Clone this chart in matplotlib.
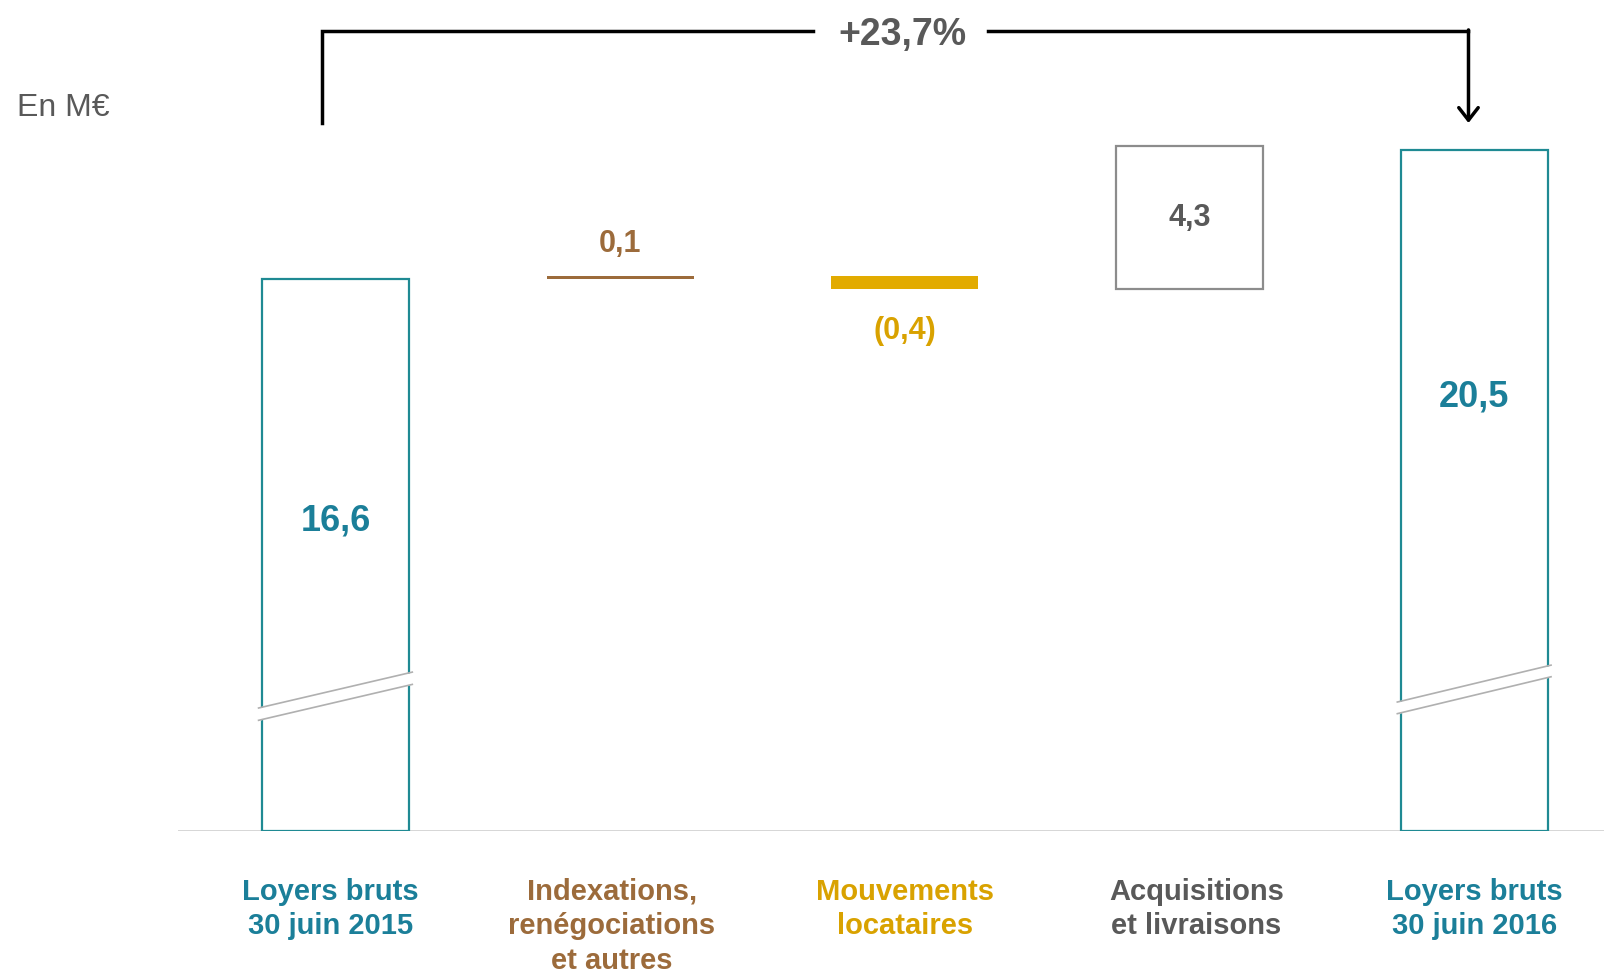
import numpy as np
import matplotlib
matplotlib.use("Agg")
import matplotlib.pyplot as plt

plt.rcParams["font.family"] = ["Liberation Sans", "DejaVu Sans"]

# données (M€)
categories = ["Loyers bruts\n30 juin 2015", "Indexations,\nrenégociations\net autres",
              "Mouvements\nlocataires", "Acquisitions\net livraisons", "Loyers bruts\n30 juin 2016"]
values = [16.6, 0.1, -0.4, 4.3, 20.5]
value_labels = ["16,6", "0,1", "(0,4)", "4,3", "20,5"]
growth_label = "+23,7%"

TEAL = "#1f8a93"
TEAL_TXT = "#1b7f99"
BROWN = "#9c6b3b"
GOLD = "#e2ab00"
GOLD_TXT = "#d9a200"
GREY = "#8c8c8c"
DARK = "#595959"
cat_colors = [TEAL_TXT, BROWN, GOLD_TXT, DARK, TEAL_TXT]

fig = plt.figure(figsize=(16.04, 9.73), dpi=100)
ax = fig.add_axes([178 / 1604, 142 / 973, 1 - 178 / 1604, 831 / 973])
ax.set_xlim(-0.553, 4.456)
ax.set_ylim(0, 25)
ax.axis("off")

w = 0.516
x = np.arange(len(values))

# calcul cascade
bottoms = []
run = 0
for i, v in enumerate(values):
    if i == 0 or i == len(values) - 1:
        bottoms.append(0)
        run = v
    else:
        bottoms.append(min(run, run + v))
        run += v
heights = [abs(v) if 0 < i < len(values) - 1 else v for i, v in enumerate(values)]

# barres totales
for i in (0, 4):
    ax.bar(x[i], heights[i], bottom=bottoms[i], width=w, facecolor="white",
           edgecolor=TEAL, linewidth=1.6, zorder=2)
# variations
ax.bar(x[1], heights[1], bottom=bottoms[1], width=w, color=BROWN, linewidth=0, zorder=2)
ax.bar(x[2], heights[2], bottom=bottoms[2], width=w, color=GOLD, linewidth=0, zorder=2)
ax.bar(x[3], heights[3], bottom=bottoms[3], width=w, facecolor="white",
       edgecolor=GREY, linewidth=1.6, zorder=2)

# coupures d'axe
breaks = {0: (3.70, 4.78, 0.37), 4: (3.88, 4.99, 0.35)}
for i, (yl, yr, gap) in breaks.items():
    xs = np.array([x[i] - w / 2 - 0.012, x[i] + w / 2 + 0.012])
    top = np.array([yl, yr])
    ax.fill_between(xs, top - gap, top, color="white", zorder=3, linewidth=0)
    ax.plot(xs, top, color="#b0b0b0", lw=1.2, zorder=4)
    ax.plot(xs, top - gap, color="#b0b0b0", lw=1.2, zorder=4)

# ligne de base
ax.axhline(0, color="#cfcfcf", lw=1.2, zorder=1)

# étiquettes de valeurs
ax.text(x[0], 9.33, value_labels[0], ha="center", va="center", fontsize=26,
        fontweight="bold", color=TEAL_TXT)
ax.text(x[4], 13.05, value_labels[4], ha="center", va="center", fontsize=26,
        fontweight="bold", color=TEAL_TXT)
ax.text(x[1], 17.65, value_labels[1], ha="center", va="center", fontsize=22,
        fontweight="bold", color=BROWN)
ax.text(x[2], 15.05, value_labels[2], ha="center", va="center", fontsize=22,
        fontweight="bold", color=GOLD_TXT)
ax.text(x[3], 18.45, value_labels[3], ha="center", va="center", fontsize=22,
        fontweight="bold", color=DARK)

# catégories
label_dx = [-0.018, -0.029, 0.0, 0.025, 0.0]
for xi, dx, lab, c in zip(x, label_dx, categories, cat_colors):
    ax.text(xi + dx, -1.40, lab, ha="center", va="top", fontsize=21, fontweight="bold",
            color=c, linespacing=1.3, clip_on=False)

# flèche de croissance
yb = 24.06
xl, xr = -0.047, 3.98
ax.plot([xl, xl, 1.676], [21.29, yb, yb], color="black", lw=2.5, solid_joinstyle="miter",
        clip_on=False)
ax.plot([2.293, xr], [yb, yb], color="black", lw=2.5, clip_on=False)
ax.annotate("", xy=(xr, 21.3), xytext=(xr, yb + 0.04),
            arrowprops=dict(arrowstyle="->,head_length=0.9,head_width=0.7",
                            color="black", lw=2.5, shrinkA=0, shrinkB=0))
ax.text(1.99, yb - 0.12, growth_label, ha="center", va="center", fontsize=27,
        fontweight="bold", color=DARK)

fig.text(17 / 1604, 1 - 108 / 973, "En M€", ha="left", va="center", fontsize=23, color=DARK)

fig.savefig("out.png", dpi=100)
